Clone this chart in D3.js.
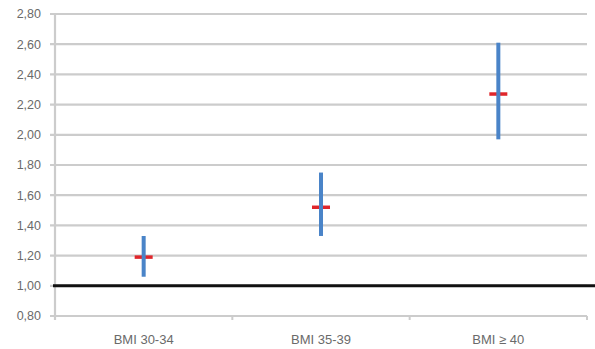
<!DOCTYPE html>
<html><head><meta charset="utf-8">
<script src="https://cdn.jsdelivr.net/npm/d3@7"></script>
<style>body{margin:0;background:#fff}svg{display:block}</style>
</head><body>
<svg id="c" width="595" height="349"></svg>
<script>
const categories = ["BMI 30-34", "BMI 35-39", "BMI \u2265 40"];
const estimate = [1.19, 1.52, 2.27];
const lower = [1.06, 1.33, 1.97];
const upper = [1.33, 1.75, 2.61];
const yTicks = [0.8, 1.0, 1.2, 1.4, 1.6, 1.8, 2.0, 2.2, 2.4, 2.6, 2.8];
const refValue = 1.0;

(function () {
const svg = d3.select("#c");
const mL = 55, mR = 587, mT = 14, mB = 316;
const y = d3.scaleLinear().domain([0.8, 2.8]).range([mB, mT]);
const x = d3.scaleBand().domain(categories).range([mL, mR]).padding(0);
const fmt = v => d3.format(".2f")(v).replace(".", ",");
const font = "Liberation Sans, Arial, sans-serif";

// gridlines
svg.append("g").selectAll("line").data(yTicks).join("line")
  .attr("x1", mL - 5).attr("x2", mR)
  .attr("y1", d => y(d)).attr("y2", d => y(d))
  .attr("stroke", "#cccccc").attr("stroke-width", 2.2);

// y axis line
svg.append("line").attr("x1", mL).attr("x2", mL)
  .attr("y1", mT).attr("y2", mB + 4)
  .attr("stroke", "#cccccc").attr("stroke-width", 2.2);

// x tick marks
svg.append("g").selectAll("line").data([0, 1, 2, 3]).join("line")
  .attr("x1", i => mL + i * x.bandwidth()).attr("x2", i => mL + i * x.bandwidth())
  .attr("y1", mB).attr("y2", mB + 4)
  .attr("stroke", "#cccccc").attr("stroke-width", 2);

// y labels
svg.append("g").selectAll("text").data(yTicks).join("text")
  .attr("x", 41).attr("y", d => y(d)).attr("dy", "0.35em")
  .attr("text-anchor", "end")
  .attr("font-family", font)
  .attr("font-size", 12.5).attr("fill", "#6a6a6a")
  .text(fmt);

// reference line at 1.00
svg.append("line").attr("x1", mL - 2).attr("x2", 595)
  .attr("y1", y(refValue)).attr("y2", y(refValue))
  .attr("stroke", "#111").attr("stroke-width", 3);

// estimate markers (red)
svg.append("g").selectAll("line").data(categories).join("line")
  .attr("x1", d => x(d) + x.bandwidth() / 2 - 9)
  .attr("x2", d => x(d) + x.bandwidth() / 2 + 9)
  .attr("y1", (d, i) => y(estimate[i])).attr("y2", (d, i) => y(estimate[i]))
  .attr("stroke", "#e0262b").attr("stroke-width", 3.5);

// CI bars (blue)
svg.append("g").selectAll("line").data(categories).join("line")
  .attr("x1", d => x(d) + x.bandwidth() / 2).attr("x2", d => x(d) + x.bandwidth() / 2)
  .attr("y1", (d, i) => y(lower[i])).attr("y2", (d, i) => y(upper[i]))
  .attr("stroke", "#4a84c8").attr("stroke-width", 4);

// x labels
svg.append("g").selectAll("text").data(categories).join("text")
  .attr("x", d => x(d) + x.bandwidth() / 2).attr("y", 339).attr("dy", "0.35em")
  .attr("text-anchor", "middle")
  .attr("font-family", font)
  .attr("font-size", 13).attr("fill", "#6a6a6a")
  .text(d => d);
})();
</script>
</body></html>
